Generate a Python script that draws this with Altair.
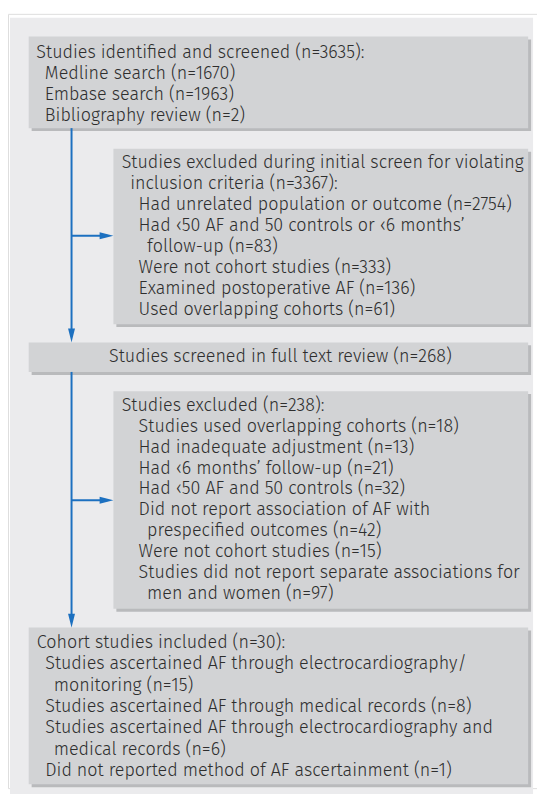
import altair as alt
import pandas as pd

# ---------------- content ----------------
box1_lines = [
    ("Studies identified and screened (n=3635):", 0),
    ("Medline search (n=1670)", 1),
    ("Embase search (n=1963)", 1),
    ("Bibliography review (n=2)", 1),
]
box2_lines = [
    ("Studies excluded during initial screen for violating", 0),
    ("inclusion criteria (n=3367):", 1),
    ("Had unrelated population or outcome (n=2754)", 2),
    ("Had \u203950 AF and 50 controls or \u20396 months\u2019", 2),
    ("follow-up (n=83)", 3),
    ("Were not cohort studies (n=333)", 2),
    ("Examined postoperative AF (n=136)", 2),
    ("Used overlapping cohorts (n=61)", 2),
]
box3_lines = [
    ("Studies screened in full text review (n=268)", 0),
]
box4_lines = [
    ("Studies excluded (n=238):", 0),
    ("Studies used overlapping cohorts (n=18)", 2),
    ("Had inadequate adjustment (n=13)", 2),
    ("Had \u20396 months\u2019 follow-up (n=21)", 2),
    ("Had \u203950 AF and 50 controls (n=32)", 2),
    ("Did not report association of AF with", 2),
    ("prespecified outcomes (n=42)", 3),
    ("Were not cohort studies (n=15)", 2),
    ("Studies did not report separate associations for", 2),
    ("men and women (n=97)", 3),
]
box5_lines = [
    ("Cohort studies included (n=30):", 0),
    ("Studies ascertained AF through electrocardiography/", 1),
    ("monitoring (n=15)", 2),
    ("Studies ascertained AF through medical records (n=8)", 1),
    ("Studies ascertained AF through electrocardiography and", 1),
    ("medical records (n=6)", 2),
    ("Did not reported method of AF ascertainment (n=1)", 1),
]

# ---------------- layout (page pixel coords) ----------------
PAGE = 8
W, H = 537, 786
panel = dict(x0=10, x1=541, y0=12, y1=800)
boxes = [
    # name, x0, x1, y0, y1, text x, first baseline, line height, lines, centered
    ("b1", 29, 536, 31, 124, 36.8, 52.5, 21.3, box1_lines, False),
    ("b2", 115, 536, 145, 323, 123.4, 164.6, 21.3, box2_lines, False),
    ("b3", 29, 536, 341.5, 371.5, 282.5, 361.8, 21.3, box3_lines, True),
    ("b4", 115, 536, 391, 612, 123.4, 411.0, 21.2, box4_lines, False),
    ("b5", 29, 536, 631, 790, 37.2, 651.8, 21.65, box5_lines, False),
]
INDENT = 8.6
SHADOW = 3
VX = 72.5
arrows_h = [233.3, 501.7]  # horizontal connector heights
blue = "#1c70c0"
FONT = "Fira Sans, Open Sans"
FSIZE = 18.2
FWEIGHT = 300
TCOLOR = "#2e2e2e"

def px(v):
    return v - PAGE

rects = []
shadows = []
texts = []
for name, x0, x1, y0, y1, tx, b0, lh, lines, centered in boxes:
    rects.append(dict(x=px(x0), x2=px(x1), y=px(y0), y2=px(y1)))
    shadows.append(dict(x=px(x0 + SHADOW), x2=px(x1 + SHADOW), y=px(y0 + SHADOW), y2=px(y1 + SHADOW)))
    for i, (t, lvl) in enumerate(lines):
        if centered:
            texts.append(dict(x=px((x0 + x1) / 2 + 2), y=px(b0 + i * lh), t=t, al="center"))
        else:
            texts.append(dict(x=px(tx + lvl * INDENT), y=px(b0 + i * lh), t=t, al="left"))

xs = alt.Scale(domain=[0, W], range=[0, W], nice=False, zero=False)
ys = alt.Scale(domain=[0, H], range=[0, H], nice=False, zero=False)

panel_df = pd.DataFrame([dict(x=px(panel["x0"]), x2=px(panel["x1"]), y=px(panel["y0"]), y2=px(panel["y1"]))])
panel_layer = alt.Chart(panel_df).mark_rect(color="#ebebed").encode(
    x=alt.X("x:Q", scale=xs, axis=None), x2="x2:Q",
    y=alt.Y("y:Q", scale=ys, axis=None), y2="y2:Q")

shadow_layer = alt.Chart(pd.DataFrame(shadows)).mark_rect(color="#b9babc").encode(
    x=alt.X("x:Q", scale=xs, axis=None), x2="x2:Q",
    y=alt.Y("y:Q", scale=ys, axis=None), y2="y2:Q")

box_layer = alt.Chart(pd.DataFrame(rects)).mark_rect(color="#d2d3d5").encode(
    x=alt.X("x:Q", scale=xs, axis=None), x2="x2:Q",
    y=alt.Y("y:Q", scale=ys, axis=None), y2="y2:Q")

# connector lines
b = {bx[0]: bx for bx in boxes}
lines_df = pd.DataFrame([
    dict(x=px(VX), x2=px(VX), y=px(b["b1"][4]), y2=px(b["b3"][3] - 6)),
    dict(x=px(VX), x2=px(VX), y=px(b["b3"][4]), y2=px(b["b5"][3] - 6)),
    dict(x=px(VX), x2=px(b["b2"][1] - 6), y=px(arrows_h[0]), y2=px(arrows_h[0])),
    dict(x=px(VX), x2=px(b["b4"][1] - 6), y=px(arrows_h[1]), y2=px(arrows_h[1])),
])
rule_layer = alt.Chart(lines_df).mark_rule(color=blue, strokeWidth=2).encode(
    x=alt.X("x:Q", scale=xs, axis=None), x2="x2:Q",
    y=alt.Y("y:Q", scale=ys, axis=None), y2="y2:Q")

ALEN = 7  # half-length of arrowhead
right_df = pd.DataFrame([
    dict(x=px(b["b2"][1] - ALEN), y=px(arrows_h[0])),
    dict(x=px(b["b4"][1] - ALEN), y=px(arrows_h[1])),
])
down_df = pd.DataFrame([
    dict(x=px(VX), y=px(b["b3"][3] - ALEN)),
    dict(x=px(VX), y=px(b["b5"][3] - ALEN)),
])
right_layer = alt.Chart(right_df).mark_point(
    shape="M-1,-0.5L1,0L-1,0.5Z", filled=True, color=blue, opacity=1, size=(2 * ALEN) ** 2, strokeWidth=0
).encode(x=alt.X("x:Q", scale=xs, axis=None), y=alt.Y("y:Q", scale=ys, axis=None))
down_layer = alt.Chart(down_df).mark_point(
    shape="M-0.5,-1L0,1L0.5,-1Z", filled=True, color=blue, opacity=1, size=(2 * ALEN) ** 2, strokeWidth=0
).encode(x=alt.X("x:Q", scale=xs, axis=None), y=alt.Y("y:Q", scale=ys, axis=None))

tdf = pd.DataFrame(texts)
text_left = alt.Chart(tdf[tdf.al == "left"]).mark_text(
    align="left", baseline="alphabetic", font=FONT, fontSize=FSIZE, fontWeight=FWEIGHT, color=TCOLOR
).encode(x=alt.X("x:Q", scale=xs, axis=None), y=alt.Y("y:Q", scale=ys, axis=None), text="t:N")
text_center = alt.Chart(tdf[tdf.al == "center"]).mark_text(
    align="center", baseline="alphabetic", font=FONT, fontSize=FSIZE, fontWeight=FWEIGHT, color=TCOLOR
).encode(x=alt.X("x:Q", scale=xs, axis=None), y=alt.Y("y:Q", scale=ys, axis=None), text="t:N")

chart = alt.layer(
    panel_layer, shadow_layer, box_layer, rule_layer, right_layer, down_layer, text_left, text_center
).properties(
    width=W, height=H, padding=0, autosize=alt.AutoSizeParams(type="none")
).configure_view(stroke=None).configure(background="white")

chart.save("out.html", embed_options={"renderer": "svg", "actions": False})
